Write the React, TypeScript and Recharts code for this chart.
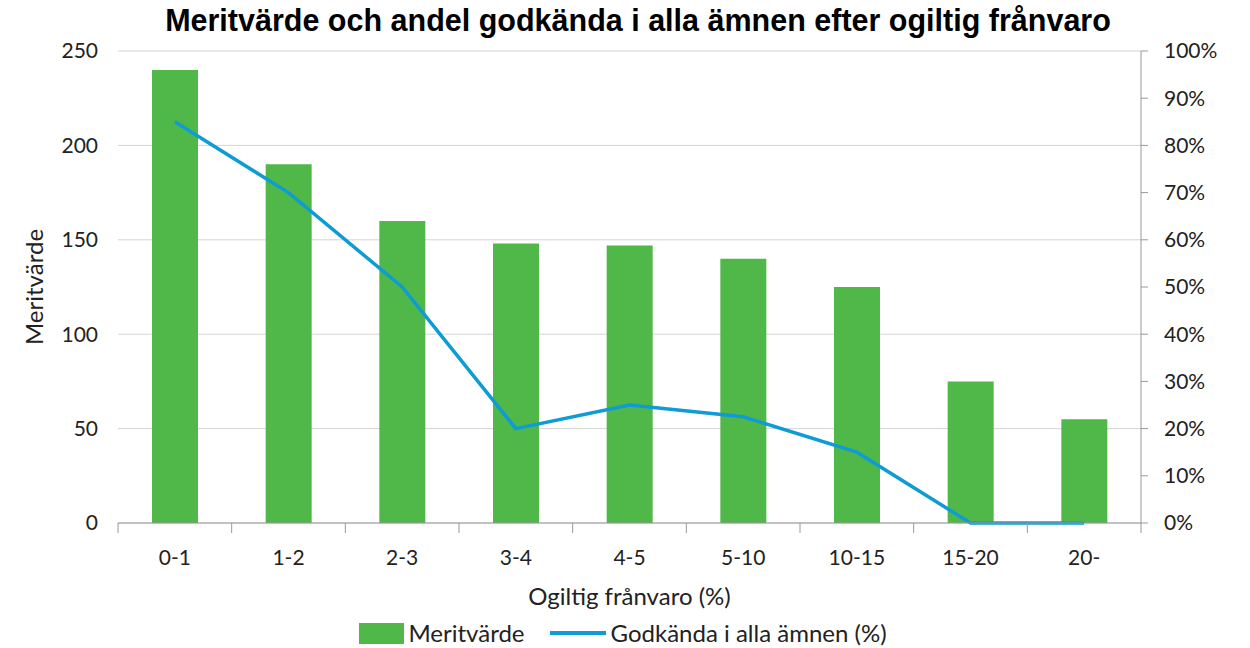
import React from 'react';
import {
  ComposedChart,
  Bar,
  Line,
  XAxis,
  YAxis,
  CartesianGrid,
  Legend,
} from 'recharts';

const categories = ['0-1', '1-2', '2-3', '3-4', '4-5', '5-10', '10-15', '15-20', '20-'];
const meritValues = [240, 190, 160, 148, 147, 140, 125, 75, 55];
const passShares = [0.85, 0.7, 0.5, 0.2, 0.25, 0.225, 0.15, 0, 0];
const leftTicks = [0, 50, 100, 150, 200, 250];
const rightTicks = [0, 0.1, 0.2, 0.3, 0.4, 0.5, 0.6, 0.7, 0.8, 0.9, 1];

const data = categories.map((name, i) => ({
  name,
  merit: meritValues[i],
  godkanda: passShares[i],
}));

const FONT = 'Lato, "Open Sans", sans-serif';
const GREEN = '#50b848';
const BLUE = '#0f9bd3';
const AXIS = '#999999';

// x tick: label at band centre, tick marks on the band edges
function XTick(props: any) {
  const { x, y, payload, index, width } = props;
  const half = (width || 1023) / categories.length / 2;
  const axisY = y - 8;
  return (
    <g>
      <line x1={x - half} x2={x - half} y1={axisY} y2={axisY + 10} stroke={AXIS} />
      {index === categories.length - 1 && (
        <line x1={x + half} x2={x + half} y1={axisY} y2={axisY + 10} stroke={AXIS} />
      )}
      <text x={x} y={y + 34} textAnchor="middle" fill="#222" fontSize={21} fontFamily={FONT}>
        {payload.value}
      </text>
    </g>
  );
}

function LegendContent() {
  return (
    <div
      style={{
        display: 'flex',
        justifyContent: 'center',
        alignItems: 'center',
        fontFamily: FONT,
        fontSize: 24,
        lineHeight: '26px',
        color: '#222',
        marginLeft: -4,
      }}
    >
      <span style={{ display: 'inline-block', width: 45, height: 21, background: GREEN, marginRight: 4 }} />
      <span style={{ marginRight: 25 }}>Meritvärde</span>
      <span style={{ display: 'inline-block', width: 56, height: 4, background: BLUE, marginRight: 5 }} />
      <span>Godkända i alla ämnen (%)</span>
    </div>
  );
}

export default function App() {
  return (
    <div style={{ position: 'absolute', left: 0, top: 0, width: 1250, height: 648, background: '#fff' }}>
      <div
        style={{
          position: 'absolute',
          left: 0,
          top: 3,
          width: 1276,
          textAlign: 'center',
          fontFamily: '"Liberation Sans", Arial, sans-serif',
          fontWeight: 'bold',
          fontSize: 30.5,
          color: '#000',
        }}
      >
        Meritvärde och andel godkända i alla ämnen efter ogiltig frånvaro
      </div>
      <ComposedChart
        width={1250}
        height={648}
        data={data}
        margin={{ top: 51, right: 0, bottom: 0, left: 0 }}
      >
        <CartesianGrid yAxisId="left" vertical={false} stroke="#d4d4d4" />
        <XAxis
          dataKey="name"
          axisLine={{ stroke: AXIS }}
          tickLine={false}
          tick={<XTick />}
          height={97}
          interval={0}
          label={{
            value: 'Ogiltig frånvaro (%)',
            position: 'insideBottom',
            offset: 15,
            fill: '#222',
            fontSize: 24,
            fontFamily: FONT,
          }}
        />
        <YAxis
          yAxisId="left"
          domain={[0, 250]}
          ticks={leftTicks}
          width={118}
          axisLine={false}
          tickLine={false}
          tickMargin={14}
          tick={{ fill: '#222', fontSize: 21, fontFamily: FONT }}
          label={{
            value: 'Meritvärde',
            angle: -90,
            position: 'insideLeft',
            offset: 34,
            fill: '#222',
            fontSize: 24,
            fontFamily: FONT,
            style: { textAnchor: 'middle' },
          }}
        />
        <YAxis
          yAxisId="right"
          orientation="right"
          domain={[0, 1]}
          ticks={rightTicks}
          width={109}
          axisLine={{ stroke: AXIS }}
          tickLine={{ stroke: AXIS }}
          tickSize={7}
          tickMargin={16}
          tickFormatter={(v: number) => `${Math.round(v * 100)}%`}
          tick={{ fill: '#222', fontSize: 21, fontFamily: FONT }}
        />
        <Legend verticalAlign="bottom" height={28} wrapperStyle={{ bottom: 0 }} content={<LegendContent />} />
        <Bar yAxisId="left" dataKey="merit" name="Meritvärde" fill={GREEN} barSize={46} isAnimationActive={false} />
        <Line
          yAxisId="right"
          type="linear"
          dataKey="godkanda"
          name="Godkända i alla ämnen (%)"
          stroke={BLUE}
          strokeWidth={3.5}
          dot={false}
          activeDot={false}
          isAnimationActive={false}
        />
      </ComposedChart>
    </div>
  );
}
